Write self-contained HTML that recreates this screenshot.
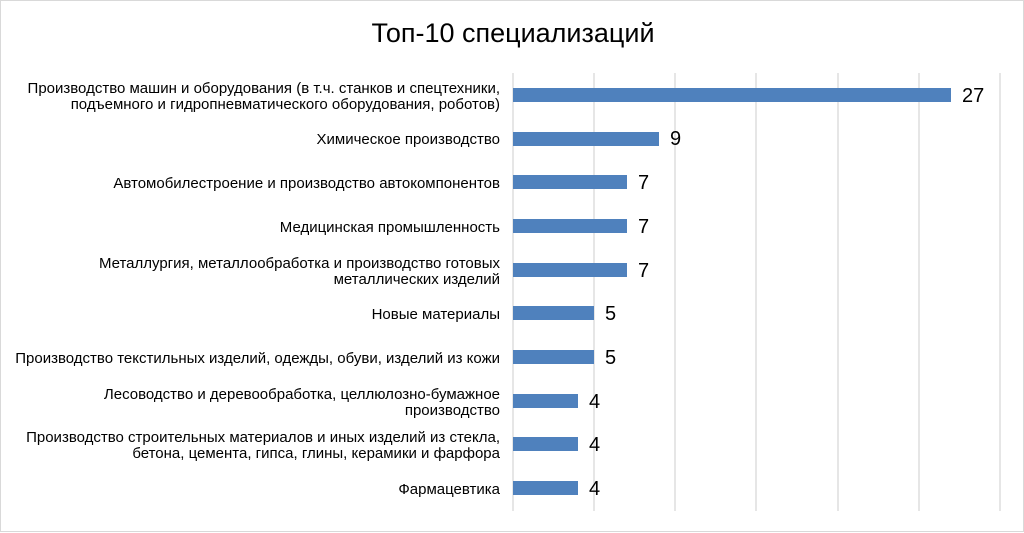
<!DOCTYPE html>
<html><head><meta charset="utf-8"><style>
body{margin:0;background:#fff;}
svg{display:block;}
text{font-family:"Liberation Sans",Arial,sans-serif;fill:#000;}
</style></head><body>
<svg width="1024" height="533" viewBox="0 0 1024 533">
<rect x="0.5" y="0.5" width="1023" height="531" fill="#fff" stroke="#d9d9d9"/>
<text x="513" y="42" font-size="27" text-anchor="middle">Топ-10 специализаций</text>
<g stroke="#d9d9d9" stroke-width="1.3">
<line x1="513" y1="73" x2="513" y2="511"/>
<line x1="594" y1="73" x2="594" y2="511"/>
<line x1="675" y1="73" x2="675" y2="511"/>
<line x1="756" y1="73" x2="756" y2="511"/>
<line x1="838" y1="73" x2="838" y2="511"/>
<line x1="919" y1="73" x2="919" y2="511"/>
<line x1="1000" y1="73" x2="1000" y2="511"/>
</g>
<g fill="#4f81bd">
<rect x="513" y="88" width="438" height="14"/>
<rect x="513" y="132" width="146" height="14"/>
<rect x="513" y="175" width="114" height="14"/>
<rect x="513" y="219" width="114" height="14"/>
<rect x="513" y="263" width="114" height="14"/>
<rect x="513" y="306" width="81" height="14"/>
<rect x="513" y="350" width="81" height="14"/>
<rect x="513" y="394" width="65" height="14"/>
<rect x="513" y="437" width="65" height="14"/>
<rect x="513" y="481" width="65" height="14"/>
</g>
<g font-size="20">
<text x="962" y="102">27</text>
<text x="670" y="145">9</text>
<text x="638" y="189">7</text>
<text x="638" y="233">7</text>
<text x="638" y="277">7</text>
<text x="605" y="320">5</text>
<text x="605" y="364">5</text>
<text x="589" y="408">4</text>
<text x="589" y="451">4</text>
<text x="589" y="495">4</text>
</g>
<g font-size="15" text-anchor="end">
<text x="500" y="93">Производство машин  и оборудования (в т.ч.  станков и спецтехники,</text>
<text x="500" y="109">подъемного и  гидропневматического оборудования, роботов)</text>
<text x="500" y="144">Химическое производство</text>
<text x="500" y="188">Автомобилестроение и производство автокомпонентов</text>
<text x="500" y="232">Медицинская промышленность</text>
<text x="500" y="268">Металлургия,  металлообработка и производство готовых</text>
<text x="500" y="284">металлических  изделий</text>
<text x="500" y="319">Новые материалы</text>
<text x="500" y="363">Производство текстильных  изделий,  одежды, обуви,  изделий  из кожи</text>
<text x="500" y="399">Лесоводство и деревообработка, целлюлозно-бумажное</text>
<text x="500" y="415">производство</text>
<text x="500" y="442">Производство строительных материалов и иных изделий  из  стекла,</text>
<text x="500" y="458">бетона, цемента,  гипса, глины,  керамики и фарфора</text>
<text x="500" y="494">Фармацевтика</text>
</g>
</svg>
</body></html>
